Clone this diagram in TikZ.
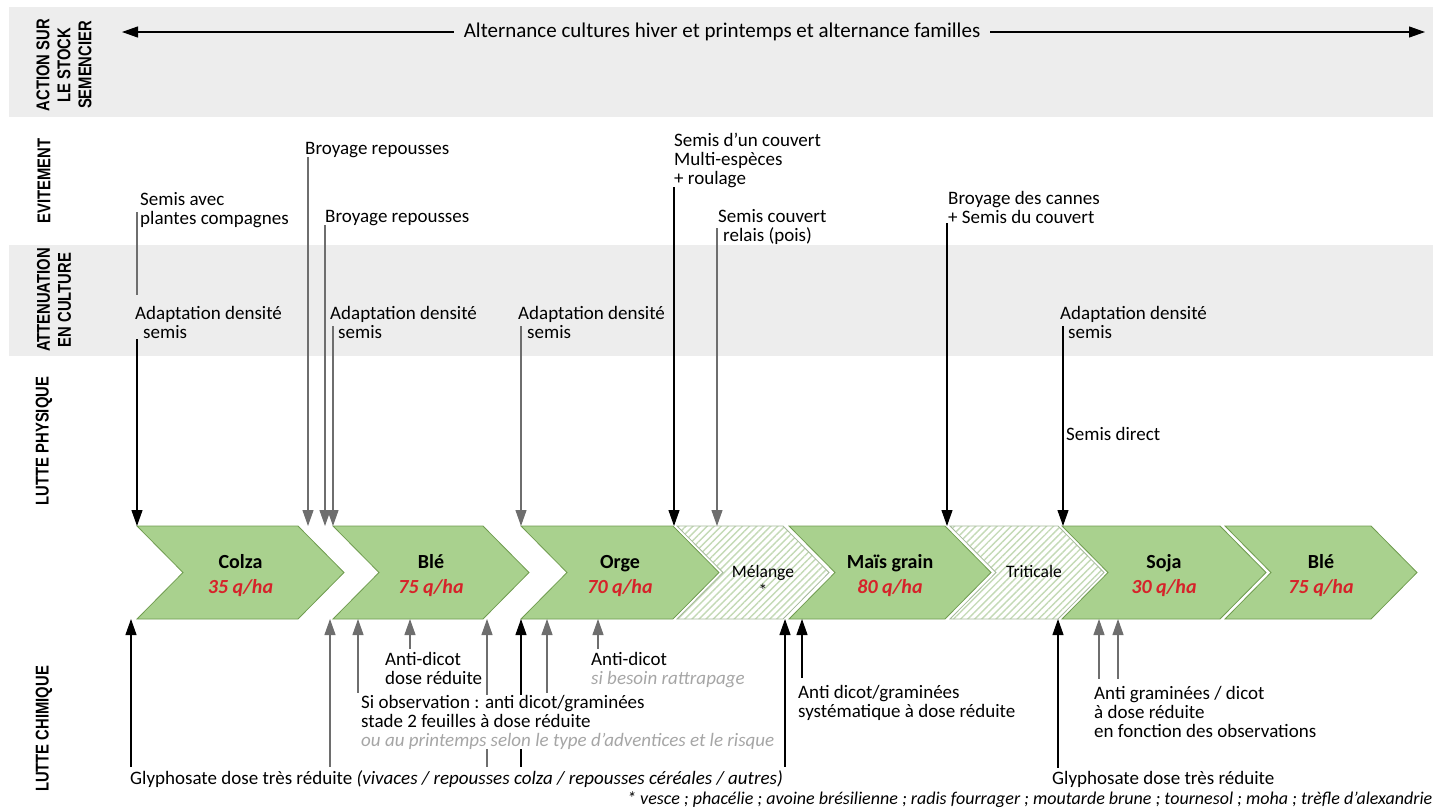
\documentclass[tikz,border=0pt]{standalone}
\usepackage{fontspec}
\setmainfont{Carlito}
\newfontfamily\headfont{Liberation Sans}
\usetikzlibrary{arrows.meta,patterns.meta}

\definecolor{bandgray}{RGB}{237,237,237}
\definecolor{cropgreen}{RGB}{169,209,142}
\definecolor{cropedge}{RGB}{112,156,80}
\definecolor{hatchgreen}{RGB}{196,218,182}
\definecolor{hatchedge}{RGB}{165,185,155}
\definecolor{yieldred}{RGB}{214,35,42}
\definecolor{notegray}{RGB}{166,166,166}
\definecolor{linegray}{RGB}{110,110,110}

\tikzset{
  lbl/.style={anchor=base west, inner sep=0pt, align=left,
              font=\fontsize{19}{19}\selectfont},
  head/.style={font=\headfont\bfseries\fontsize{18.5}{21}\selectfont,
               rotate=90, xscale=0.8, align=center, inner sep=0pt},
  arr/.style={-{Triangle[length=16pt,width=11pt]}, line width=1.1pt, black},
  arrg/.style={arr, linegray},
  lnk/.style={line width=1.1pt, linegray},
  crop/.style={fill=cropgreen, draw=cropedge, line width=0.8pt},
  mix/.style={preaction={draw=white, fill=white, line width=4pt},
              pattern={Lines[angle=45,distance=5pt,line width=1.4pt]},
              pattern color=hatchgreen, draw=hatchedge, line width=0.8pt},
  cname/.style={anchor=base, inner sep=0pt, font=\bfseries\fontsize{20}{20}\selectfont},
  cyield/.style={anchor=base, inner sep=0pt, text=yieldred,
                 font=\bfseries\itshape\fontsize{20}{20}\selectfont},
  mixname/.style={anchor=base, inner sep=0pt, font=\fontsize{17.5}{17.5}\selectfont},
}

\begin{document}
\begin{tikzpicture}[x=1pt, y=-1pt]
\useasboundingbox (0,0) rectangle (1450,809);

% bands
\fill[bandgray] (9,7) rectangle (1433,117);
\fill[bandgray] (9,245) rectangle (1433,356);

% row headings
\node[head] (hstock) at (64,65) {ACTION SUR\\LE STOCK\\SEMENCIER};
\node[head] (hevit) at (44,181) {EVITEMENT};
\node[head] (hatt) at (54,300) {ATTENUATION\\EN CULTURE};
\node[head] (hphys) at (44,441) {LUTTE PHYSIQUE};
\node[head] (hchim) at (44,729) {LUTTE CHIMIQUE};

% rotation
\coordinate (altl) at (122,32);
\coordinate (altr) at (1425,32);
\node[lbl, anchor=center, fill=bandgray, inner xsep=10pt, font=\fontsize{21}{21}\selectfont]
    (alt) at (722,32) {Alternance cultures hiver et printemps et alternance familles};
\draw[arr] (alt.west) -- (altl);
\draw[arr] (alt.east) -- (altr);

% crops
\coordinate (croptop) at (0,526);
\coordinate (cropbot) at (0,619);
\foreach \l/\r/\n/\s in {137/298/colza/crop, 333/483/ble/crop, 521/673/orge/crop,
    677/783/melange/mix, 789/945/mais/crop, 950/1058/triticale/mix,
    1062/1220/soja/crop, 1225/1371/blebis/crop}
{
  \draw[\s] (\l,526) -- (\r,526) -- ({\r+46},572.5) -- (\r,619)
      -- (\l,619) -- ({\l+46},572.5) -- cycle;
  \node[inner sep=0pt] (\n) at ({(\l+\r+46)/2},572.5) {};
}
\foreach \n/\t/\q in {colza/Colza/35, ble/Blé/75, orge/Orge/70,
    mais/Maïs grain/80, soja/Soja/30, blebis/Blé/75}
{
  \node[cname] (\n-name) at ([yshift=4.5pt]\n) {\t};
  \node[cyield] (\n-q) at ([yshift=-20.5pt]\n) {\q~q/ha};
}
\node[mixname] (melange-name) at ([xshift=10pt,yshift=-4.5pt]melange) {Mélange};
\node[mixname] (melange-star) at ([xshift=10pt,yshift=-24pt]melange) {*};
\node[mixname] (triticale-name) at ([xshift=7pt,yshift=-4.5pt]triticale) {Triticale};

% evitement / attenuation / lutte physique
\node[lbl] (sac) at (140,224) {Semis avec\\plantes compagnes};
\node[lbl] (br1) at (305,154) {Broyage repousses};
\node[lbl] (br2) at (325,222) {Broyage repousses};
\node[lbl] (sc1) at (674,184) {Semis d’un couvert\\Multi-espèces\\+ roulage};
\node[lbl] (scr) at (718,241) {Semis couvert\\\hspace*{5pt}relais (pois)};
\node[lbl] (bdc) at (948,223) {Broyage des cannes\\+ Semis du couvert};
\node[lbl] (ad1) at (135,338) {Adaptation densité\\\hspace*{8pt}semis};
\node[lbl] (ad2) at (330,338) {Adaptation densité\\\hspace*{8pt}semis};
\node[lbl] (ad3) at (518,338) {Adaptation densité\\\hspace*{9pt}semis};
\node[lbl] (ad4) at (1060,338) {Adaptation densité\\\hspace*{8pt}semis};
\node[lbl] (sd) at (1066,440) {Semis direct};

\draw[lnk] ([xshift=-3pt,yshift=12pt]sac.base west) -- ([xshift=2pt,yshift=11pt]ad1.north west);
\draw[arr] ([xshift=2pt,yshift=-1pt]ad1.south west) -- ([xshift=2pt]ad1.south west |- croptop);
\draw[arrg] ([xshift=3pt]br1.south west) -- ([xshift=3pt]br1.south west |- croptop);
\draw[arrg] (br2.south west) -- (br2.south west |- croptop);
\draw[arrg] ([xshift=3pt,yshift=12pt]ad2.base west) -- ([xshift=3pt]ad2.base west |- croptop);
\draw[arrg] ([xshift=3pt,yshift=12pt]ad3.base west) -- ([xshift=3pt]ad3.base west |- croptop);
\draw[arr] (sc1.south west) -- (sc1.south west |- croptop);
\draw[arrg] ([xshift=-1pt,yshift=13pt]scr.base west) -- ([xshift=-1pt]scr.base west |- croptop);
\draw[arr] ([xshift=-1pt]bdc.south west) -- ([xshift=-1pt]bdc.south west |- croptop);
\draw[arr] ([xshift=3pt,yshift=12pt]ad4.base west) -- ([xshift=3pt]ad4.base west |- croptop);

% lutte chimique
\node[lbl] (gly1) at (130,784) {Glyphosate dose très réduite
    \textit{(vivaces / repousses colza / repousses céréales / autres)}};
\node[lbl] (gly2) at (1052,784) {Glyphosate dose très réduite};
\node[lbl, font=\itshape\fontsize{18}{18}\selectfont] (note) at (627,804)
    {* vesce ; phacélie ; avoine brésilienne ; radis fourrager ; moutarde brune ; tournesol ; moha ; trèfle d'alexandrie};
\foreach \dx/\s in {1/arr, 200/arrg, 357/arrg, 391/arr, 655/arr}
  \draw[\s] ([xshift=\dx pt,yshift=3pt]gly1.north west) -- ([xshift=\dx pt]gly1.north west |- cropbot);
\draw[arr] ([xshift=6pt,yshift=3pt]gly2.north west) -- ([xshift=6pt]gly2.north west |- cropbot);

\node[lbl] (antid1) at (385,684) {Anti-dicot\\dose réduite};
\node[lbl] (antid2) at (591,684) {Anti-dicot\\{\color{notegray}\itshape si besoin rattrapage}};
\node[lbl] (adg) at (798,717) {Anti dicot/graminées\\systématique à dose réduite};
\node[lbl] (agd) at (1094,737) {Anti graminées / dicot\\à dose réduite\\en fonction des observations};
\node[lbl, fill=white] (siobs) at (361,746) {Si observation : anti dicot/graminées\\stade 2 feuilles à dose réduite\\
    {\color{notegray}\itshape ou au printemps selon le type d’adventices et le risque}};

\draw[arrg] ([xshift=25pt,yshift=3pt]antid1.north west) -- ([xshift=25pt]antid1.north west |- cropbot);
\draw[arrg] ([xshift=7pt,yshift=3pt]antid2.north west) -- ([xshift=7pt]antid2.north west |- cropbot);
\draw[arr] ([xshift=4pt,yshift=7pt]adg.north west) -- ([xshift=4pt]adg.north west |- cropbot);
\draw[arrg] ([xshift=5pt,yshift=7pt]agd.north west) -- ([xshift=5pt]agd.north west |- cropbot);
\draw[arrg] ([xshift=24pt,yshift=7pt]agd.north west) -- ([xshift=24pt]agd.north west |- cropbot);
\draw[arrg] ([xshift=-3pt,yshift=2pt]siobs.north west) -- ([xshift=-3pt]siobs.north west |- cropbot);
\draw[arrg] ([xshift=186pt,yshift=2pt]siobs.north west) -- ([xshift=186pt]siobs.north west |- cropbot);

\end{tikzpicture}
\end{document}
